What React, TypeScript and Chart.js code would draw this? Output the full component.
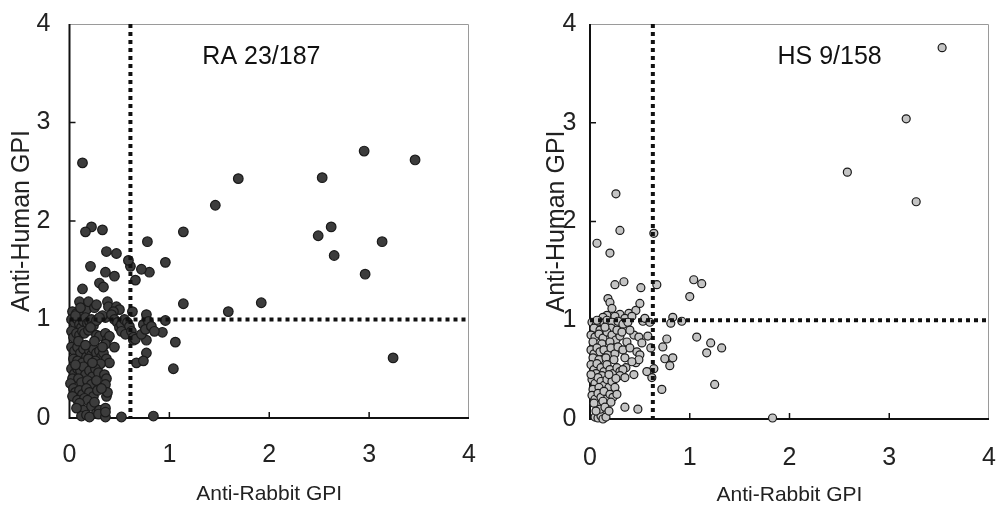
import React, { useEffect, useRef } from "react";
import { Chart, registerables } from "chart.js";
Chart.register(...registerables);

const FONT = "'Liberation Sans', Arial, sans-serif";

const axisTicks = [0, 1, 2, 3, 4];
const xTitle = "Anti-Rabbit GPI";
const yTitle = "Anti-Human GPI";
const cutY = 1;
const raCutX = 0.61;
const hsCutX = 0.63;
const raLabel = "RA 23/187";
const hsLabel = "HS 9/158";

// RA: [anti-rabbit, anti-human]
const raPoints: [number, number][] = [
  [0.13, 2.59], [1.69, 2.43], [1.46, 2.16], [2.53, 2.44], [2.95, 2.71], [3.46, 2.62],
  [2.49, 1.85], [2.62, 1.94], [2.65, 1.65], [3.13, 1.79], [2.96, 1.46], [3.24, 0.61],
  [1.14, 1.89], [1.14, 1.16], [1.59, 1.08], [1.92, 1.17], [0.96, 1.58], [0.96, 0.99],
  [0.93, 0.87], [1.06, 0.77], [1.04, 0.5], [0.84, 0.02], [0.78, 1.79], [0.8, 1.48],
  [0.72, 1.51], [0.66, 1.4], [0.61, 1.54], [0.59, 1.6], [0.63, 1.08], [0.47, 1.67],
  [0.37, 1.69], [0.33, 1.91], [0.22, 1.94], [0.16, 1.89], [0.21, 1.54], [0.36, 1.48],
  [0.45, 1.44], [0.3, 1.37], [0.34, 1.33], [0.13, 1.31], [0.52, 0.01], [0.77, 0.66],
  [0.67, 0.56], [0.74, 0.58], [0.64, 0.79], [0.77, 0.79],
  [0.03, 1.08], [0.07, 1.06], [0.1, 1.18], [0.13, 1.05], [0.17, 1.1], [0.19, 1.18],
  [0.25, 1.12], [0.27, 1.15], [0.38, 1.18], [0.39, 1.13], [0.47, 1.13], [0.5, 1.1],
  [0.44, 1.08], [0.36, 1.02], [0.33, 1.04],
  [0.02, 1.0], [0.05, 0.97], [0.08, 1.0], [0.1, 0.95], [0.12, 0.92], [0.14, 0.98],
  [0.16, 1.02], [0.18, 0.96], [0.2, 0.98], [0.22, 1.0], [0.24, 0.94], [0.27, 0.99],
  [0.3, 1.02], [0.42, 1.05], [0.45, 1.0], [0.48, 0.97], [0.5, 0.92], [0.52, 0.95],
  [0.55, 1.0], [0.58, 0.97], [0.6, 0.93], [0.52, 0.88], [0.56, 0.85], [0.62, 0.88],
  [0.64, 0.82], [0.66, 0.8], [0.72, 0.85], [0.74, 0.95], [0.77, 1.05], [0.79, 0.98],
  [0.76, 0.9], [0.82, 0.93], [0.85, 0.88],
  [0.02, 0.88], [0.04, 0.82], [0.07, 0.86], [0.1, 0.84], [0.13, 0.88], [0.15, 0.86],
  [0.19, 0.89], [0.27, 0.84], [0.3, 0.83], [0.36, 0.86], [0.38, 0.8], [0.4, 0.83],
  [0.36, 0.75], [0.45, 0.72],
  [0.02, 0.72], [0.05, 0.68], [0.08, 0.72], [0.11, 0.66], [0.14, 0.7], [0.17, 0.62],
  [0.2, 0.68], [0.22, 0.64], [0.24, 0.7], [0.27, 0.66], [0.3, 0.68], [0.32, 0.62],
  [0.34, 0.66], [0.37, 0.6], [0.4, 0.56], [0.04, 0.6], [0.08, 0.58], [0.13, 0.56],
  [0.19, 0.6], [0.26, 0.58], [0.31, 0.55],
  [0.02, 0.5], [0.05, 0.45], [0.08, 0.5], [0.11, 0.48], [0.14, 0.52], [0.16, 0.44],
  [0.2, 0.48], [0.23, 0.42], [0.26, 0.5], [0.29, 0.46], [0.35, 0.44], [0.37, 0.4],
  [0.03, 0.4], [0.09, 0.4], [0.12, 0.36], [0.18, 0.38], [0.22, 0.34], [0.27, 0.38],
  [0.36, 0.34],
  [0.01, 0.35], [0.04, 0.3], [0.06, 0.26], [0.1, 0.28], [0.13, 0.24], [0.17, 0.3],
  [0.2, 0.26], [0.24, 0.22], [0.28, 0.28], [0.03, 0.22], [0.08, 0.18], [0.15, 0.2],
  [0.18, 0.18], [0.37, 0.22], [0.38, 0.26],
  [0.1, 0.15], [0.14, 0.08], [0.22, 0.12], [0.25, 0.16], [0.27, 0.05], [0.3, 0.08],
  [0.36, 0.1], [0.12, 0.02], [0.17, 0.03], [0.2, 0.01], [0.29, 0.04], [0.36, 0.01],
  [0.36, 0.06],
  [0.06, 1.04], [0.11, 1.12], [0.21, 0.92], [0.25, 0.78], [0.09, 0.78], [0.16, 0.74],
  [0.33, 0.72], [0.06, 0.54], [0.23, 0.56], [0.32, 0.3], [0.07, 0.1],
];

// HS: [anti-rabbit, anti-human]
const hsPoints: [number, number][] = [
  [3.53, 3.76], [3.17, 3.04], [2.58, 2.5], [3.27, 2.2], [1.83, 0.01], [0.26, 2.28],
  [0.3, 1.91], [0.07, 1.78], [0.2, 1.68], [0.64, 1.88], [0.67, 1.36], [1.04, 1.41],
  [1.12, 1.37], [1.0, 1.24], [0.34, 1.39], [0.25, 1.36], [0.51, 1.33], [0.92, 0.99],
  [0.83, 1.03], [0.81, 0.97], [1.07, 0.83], [1.21, 0.77], [1.32, 0.72], [1.17, 0.67],
  [1.25, 0.35], [0.77, 0.81], [0.73, 0.73], [0.75, 0.61], [0.83, 0.62], [0.8, 0.54],
  [0.72, 0.3], [0.48, 0.1], [0.35, 0.12], [0.64, 0.51], [0.62, 0.42], [0.57, 0.48],
  [0.61, 0.72], [0.58, 0.84],
  [0.18, 1.22], [0.2, 1.18], [0.22, 1.12], [0.17, 1.05], [0.3, 1.06], [0.39, 1.07],
  [0.46, 1.1], [0.5, 1.17], [0.13, 1.03], [0.25, 1.04], [0.35, 1.02], [0.42, 1.04],
  [0.02, 0.98], [0.06, 0.95], [0.09, 0.99], [0.14, 0.97], [0.17, 1.0], [0.22, 0.98],
  [0.28, 0.99], [0.33, 0.96], [0.38, 0.98], [0.53, 0.99], [0.55, 1.02], [0.6, 0.98],
  [0.04, 0.92], [0.1, 0.9], [0.21, 0.92],
  [0.01, 0.85], [0.05, 0.83], [0.09, 0.86], [0.13, 0.82], [0.17, 0.88], [0.22, 0.85],
  [0.26, 0.8], [0.3, 0.84], [0.37, 0.78], [0.44, 0.85], [0.49, 0.83], [0.52, 0.77],
  [0.03, 0.78], [0.12, 0.76], [0.2, 0.78],
  [0.01, 0.7], [0.04, 0.66], [0.07, 0.72], [0.1, 0.68], [0.14, 0.7], [0.18, 0.65],
  [0.21, 0.72], [0.25, 0.66], [0.28, 0.73], [0.33, 0.7], [0.4, 0.72], [0.47, 0.68],
  [0.5, 0.65], [0.03, 0.62], [0.09, 0.6], [0.16, 0.62], [0.24, 0.6],
  [0.01, 0.55], [0.04, 0.5], [0.07, 0.56], [0.11, 0.52], [0.14, 0.48], [0.17, 0.55],
  [0.2, 0.5], [0.23, 0.46], [0.27, 0.52], [0.3, 0.48], [0.36, 0.52], [0.46, 0.57],
  [0.49, 0.6], [0.06, 0.46], [0.12, 0.44], [0.33, 0.5],
  [0.02, 0.4], [0.05, 0.36], [0.08, 0.42], [0.11, 0.38], [0.14, 0.34], [0.17, 0.4],
  [0.19, 0.32], [0.22, 0.38], [0.25, 0.32], [0.3, 0.44], [0.35, 0.42], [0.44, 0.45],
  [0.03, 0.3], [0.09, 0.32],
  [0.02, 0.24], [0.05, 0.2], [0.08, 0.26], [0.11, 0.22], [0.14, 0.28], [0.17, 0.2],
  [0.2, 0.25], [0.23, 0.22], [0.27, 0.25], [0.04, 0.16], [0.13, 0.18], [0.21, 0.17],
  [0.05, 0.02], [0.08, 0.01], [0.11, 0.03], [0.13, 0.0], [0.16, 0.02], [0.1, 0.1],
  [0.06, 0.08],
  [0.07, 1.0], [0.15, 0.93], [0.27, 0.9], [0.32, 0.88], [0.4, 0.9], [0.35, 0.62],
  [0.42, 0.58], [0.19, 0.45], [0.26, 0.41], [0.15, 0.12], [0.19, 0.08], [0.01, 0.45],
];

type PanelCfg = {
  points: [number, number][];
  cutX: number;
  label: string;
  labelX: number;
  labelY: number;
  fill: string;
  radius: number;
  yAxisWidth: number;
  xAxisHeight: number;
  padRight: number;
  padTop: number;
  yTickPad: number;
  xTickPad: number;
  yTitlePad: number;
  xTitlePad: number;
};

function makeChart(canvas: HTMLCanvasElement, c: PanelCfg) {
  const panelPlugin = {
    id: "panelFrame",
    beforeDatasetsDraw(chart: any) {
      const { ctx, chartArea: a, scales } = chart;
      const x = scales.x;
      const y = scales.y;
      ctx.save();
      ctx.strokeStyle = "#9a9a9a";
      ctx.lineWidth = 1;
      ctx.beginPath();
      ctx.moveTo(a.left, a.top + 0.5);
      ctx.lineTo(a.right - 0.5, a.top + 0.5);
      ctx.lineTo(a.right - 0.5, a.bottom);
      ctx.stroke();
      ctx.strokeStyle = "#111";
      ctx.lineWidth = 2;
      ctx.beginPath();
      ctx.moveTo(a.left, a.top);
      ctx.lineTo(a.left, a.bottom);
      ctx.lineTo(a.right, a.bottom);
      ctx.stroke();
      ctx.lineWidth = 1.5;
      ctx.beginPath();
      for (const v of axisTicks.slice(1, -1)) {
        const px = x.getPixelForValue(v);
        ctx.moveTo(px, a.bottom);
        ctx.lineTo(px, a.bottom - 6);
        const py = y.getPixelForValue(v);
        ctx.moveTo(a.left, py);
        ctx.lineTo(a.left + 6, py);
      }
      ctx.stroke();
      ctx.restore();
    },
    afterDraw(chart: any) {
      const { ctx, scales } = chart;
      ctx.save();
      ctx.font = `25px ${FONT}`;
      ctx.fillStyle = "#111";
      ctx.textAlign = "left";
      ctx.textBaseline = "middle";
      ctx.fillText(c.label, scales.x.getPixelForValue(c.labelX), scales.y.getPixelForValue(c.labelY));
      ctx.restore();
    },
  };

  return new Chart(canvas, {
    type: "scatter",
    data: {
      datasets: [
        {
          data: [{ x: c.cutX, y: 4 }, { x: c.cutX, y: 0 }],
          showLine: true,
          borderColor: "#111",
          borderWidth: 4,
          borderDash: [4, 4],
          pointRadius: 0,
          clip: false,
        } as any,
        {
          data: [{ x: 0, y: cutY }, { x: 4, y: cutY }],
          showLine: true,
          borderColor: "#111",
          borderWidth: 4,
          borderDash: [4, 4],
          pointRadius: 0,
          clip: false,
        },
        {
          data: c.points.map(([x, y]) => ({ x, y })),
          backgroundColor: c.fill,
          borderColor: "#1a1a1a",
          borderWidth: 1.2,
          pointRadius: c.radius,
          clip: false,
        },
      ],
    },
    options: {
      responsive: false,
      animation: false,
      devicePixelRatio: 1,
      layout: { padding: { left: 0, right: c.padRight, top: c.padTop, bottom: 0 } },
      plugins: { legend: { display: false }, tooltip: { enabled: false } },
      scales: {
        x: {
          type: "linear",
          min: 0,
          max: 4,
          afterBuildTicks: (s: any) => {
            s.ticks = axisTicks.map((v) => ({ value: v }));
          },
          afterFit: (s: any) => {
            s.height = c.xAxisHeight;
            s.paddingLeft = 0;
            s.paddingRight = 0;
            s.paddingTop = 0;
            s.paddingBottom = 0;
          },
          grid: { display: false, drawTicks: false },
          border: { display: false },
          ticks: { color: "#222", font: { family: FONT, size: 25 }, padding: c.xTickPad, maxRotation: 0 },
          title: {
            display: true,
            text: xTitle,
            color: "#222",
            font: { family: FONT, size: 21 },
            padding: { top: 0, bottom: c.xTitlePad },
          },
        },
        y: {
          type: "linear",
          min: 0,
          max: 4,
          afterBuildTicks: (s: any) => {
            s.ticks = axisTicks.map((v) => ({ value: v }));
          },
          afterFit: (s: any) => {
            s.width = c.yAxisWidth;
            s.paddingLeft = 0;
            s.paddingRight = 0;
            s.paddingTop = 0;
            s.paddingBottom = 0;
          },
          grid: { display: false, drawTicks: false },
          border: { display: false },
          ticks: { color: "#222", font: { family: FONT, size: 25 }, padding: c.yTickPad },
          title: {
            display: true,
            text: yTitle,
            color: "#222",
            font: { family: FONT, size: 25 },
            padding: { top: c.yTitlePad, bottom: 0 },
          },
        },
      },
    },
    plugins: [panelPlugin],
  } as any);
}

const raCfg: PanelCfg = {
  points: raPoints,
  cutX: raCutX,
  label: raLabel,
  labelX: 1.33,
  labelY: 3.66,
  fill: "#3c3c3c",
  radius: 4.8,
  yAxisWidth: 69.5,
  xAxisHeight: 109,
  padRight: 33,
  padTop: 24,
  yTickPad: 19,
  xTickPad: 22,
  yTitlePad: 7,
  xTitlePad: 20,
};

const hsCfg: PanelCfg = {
  points: hsPoints,
  cutX: hsCutX,
  label: hsLabel,
  labelX: 1.88,
  labelY: 3.66,
  fill: "#c4c4c4",
  radius: 4,
  yAxisWidth: 88,
  xAxisHeight: 108,
  padRight: 15,
  padTop: 24,
  yTickPad: 13.5,
  xTickPad: 24,
  yTitlePad: 40,
  xTitlePad: 19,
};

function Panel({ cfg, left }: { cfg: PanelCfg; left: number }) {
  const ref = useRef<HTMLCanvasElement | null>(null);
  useEffect(() => {
    if (!ref.current) return;
    const chart = makeChart(ref.current, cfg);
    return () => chart.destroy();
  }, [cfg]);
  return (
    <div style={{ position: "absolute", left, top: 0, width: 502, height: 527 }}>
      <canvas ref={ref} width={502} height={527} style={{ display: "block", width: 502, height: 527 }} />
    </div>
  );
}

export default function App() {
  return (
    <div style={{ position: "fixed", left: 0, top: 0, width: 1004, height: 527, background: "#fff", overflow: "hidden" }}>
      <Panel cfg={raCfg} left={0} />
      <Panel cfg={hsCfg} left={502} />
    </div>
  );
}
